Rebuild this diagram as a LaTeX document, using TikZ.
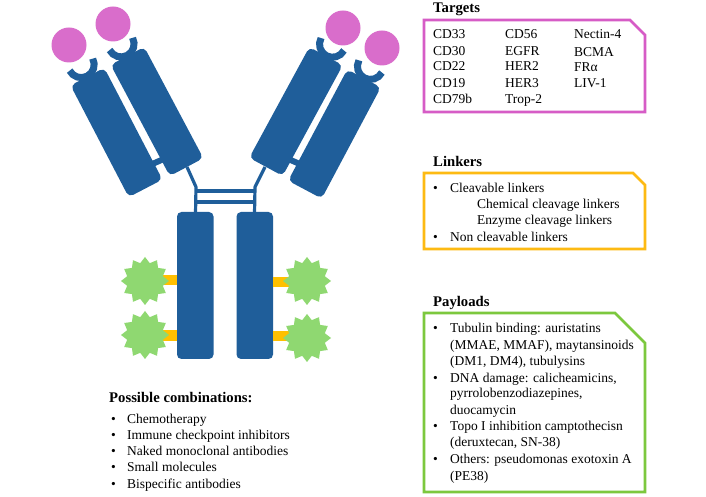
\documentclass[tikz,border=0pt]{standalone}
\usepackage{fontspec}
\setmainfont{Liberation Serif}
\usetikzlibrary{shapes.geometric,shapes.misc,calc}
\definecolor{abblue}{RGB}{31,94,154}
\definecolor{agpink}{RGB}{217,109,203}
\definecolor{pinkline}{RGB}{214,92,198}
\definecolor{payload}{RGB}{143,216,113}
\definecolor{greenline}{RGB}{124,200,62}
\definecolor{linkeryellow}{RGB}{255,192,0}
\definecolor{amberline}{RGB}{253,186,19}
\tikzset{
  chainline/.style={draw=abblue,line width=3.2pt},
  barline/.style={draw=abblue,line width=4pt},
  fcbox/.style={fill=abblue,rounded corners=4.5pt},
  antigen/.style={circle,fill=agpink,minimum size=35pt,inner sep=0pt},
  warhead/.style={star,star points=12,star point ratio=1.3,fill=payload,minimum size=48pt,inner sep=0pt,shape border rotate=90},
  tether/.style={fill=linkeryellow},
  panel/.style={line width=2.6pt,fill=none,miter limit=10},
  body/.style={anchor=base west,inner sep=0pt,font=\fontsize{13.5}{16}\selectfont},
  heading/.style={anchor=base west,inner sep=0pt,font=\fontsize{14.7}{16}\selectfont\bfseries},
}
% a Fab domain with its binding cup; local y axis runs towards the tip
\newcommand{\fabdomain}[3]{%
  \begin{scope}[shift={(#1,497-#2)},rotate=#3]
    \fill[abblue,rounded corners=5pt] (-19,-63) rectangle (19,63);
    \draw[abblue,line width=7pt] (-13,76.5) arc[start angle=180,end angle=360,radius=13];
  \end{scope}}
\begin{document}
\begin{tikzpicture}[x=1pt,y=1pt]
\useasboundingbox (0,0) rectangle (706,497);
\fill[white] (0,0) rectangle (706,497);

% hinge region
\draw[chainline,line join=round] (187,497-167) -- (196,497-187) -- (195.5,497-214);
\draw[chainline,line join=round] (265,497-167) -- (255,497-187) -- (254.5,497-214);
\draw[barline] (195,497-191) -- (255,497-191);
\draw[barline] (195,497-202) -- (255,497-202);

% links between the paired arm domains
\draw[abblue,line width=6pt] (150,497-165) -- (166,497-158);
\draw[abblue,line width=6pt] (286,497-158) -- (302,497-165);

% arms
\fabdomain{116.5}{132.5}{27.5}
\fabdomain{157}{111.5}{28}
\fabdomain{296}{111.5}{-28.5}
\fabdomain{334.5}{134}{-28}

% antigens
\node[antigen] (agA) at (69,497-45) {};
\node[antigen] (agB) at (113,497-24) {};
\node[antigen] (agC) at (343,497-28) {};
\node[antigen] (agD) at (382,497-48) {};

% Fc domains
\fill[fcbox] (177,497-212) rectangle (213.5,497-359);
\fill[fcbox] (236.5,497-212) rectangle (273,497-359);

% linkers
\fill[tether] (160,497-275) rectangle (177,497-285);
\fill[tether] (160,497-330) rectangle (177,497-341);
\fill[tether] (273,497-277) rectangle (290,497-287);
\fill[tether] (273,497-331) rectangle (290,497-341);

% payloads
\node[warhead] (pwA) at (145,497-281) {};
\node[warhead] (pwB) at (145,497-335) {};
\node[warhead] (pwC) at (307,497-281) {};
\node[warhead] (pwD) at (307,497-338) {};

% panel frames
\draw[panel,draw=pinkline] (424,497-20) -- (630,497-20) -- (645,497-35) -- (645,497-112) -- (424,497-112) -- cycle;
\draw[panel,draw=amberline] (424,497-173) -- (633,497-173) -- (645,497-185) -- (645,497-249) -- (424,497-249) -- cycle;
\draw[panel,draw=greenline] (424,497-313) -- (615,497-313) -- (645,497-343) -- (645,497-492) -- (424,497-492) -- cycle;

% targets
\node[heading] (tT) at (433,497-13) {Targets};
\node[body] (t1) at (433,497-39) {CD33};
\node[body] (t2) at (433,497-56) {CD30};
\node[body] (t3) at (433,497-71) {CD22};
\node[body] (t4) at (433,497-88) {CD19};
\node[body] (t5) at (433,497-104) {CD79b};
\node[body] (t6) at (505,497-39) {CD56};
\node[body] (t7) at (505,497-56) {EGFR};
\node[body] (t8) at (505,497-71) {HER2};
\node[body] (t9) at (505,497-88) {HER3};
\node[body] (t10) at (505,497-104) {Trop-2};
\node[body] (t11) at (574,497-39) {Nectin-4};
\node[body] (t12) at (574,497-57) {BCMA};
\node[body] (t13) at (574,497-72) {FRα};
\node[body] (t14) at (574,497-88) {LIV-1};

% linkers text
\node[heading] (lT) at (433,497-167) {Linkers};
\node[body] (lb1) at (433,497-193) {•};
\node[body] (l1) at (450,497-193) {Cleavable linkers};
\node[body] (l2) at (477,497-209) {Chemical cleavage linkers};
\node[body] (l3) at (477,497-225) {Enzyme cleavage linkers};
\node[body] (lb2) at (433,497-242) {•};
\node[body] (l4) at (450,497-242) {Non cleavable linkers};

% payloads text
\node[heading] (pT) at (433,497-307) {Payloads};
\node[body] (pb1) at (433,497-333) {•};
\node[body] (p1) at (450,497-333) {Tubulin binding: auristatins};
\node[body] (p2) at (450,497-350) {(MMAE, MMAF), maytansinoids};
\node[body] (p3) at (450,497-366) {(DM1, DM4), tubulysins};
\node[body] (pb2) at (433,497-383) {•};
\node[body] (p4) at (450,497-383) {DNA damage: calicheamicins,};
\node[body] (p5) at (450,497-398) {pyrrolobenzodiazepines,};
\node[body] (p6) at (450,497-415) {duocamycin};
\node[body] (pb3) at (433,497-431) {•};
\node[body] (p7) at (450,497-431) {Topo I inhibition camptothecisn};
\node[body] (p8) at (450,497-447) {(deruxtecan, SN-38)};
\node[body] (pb4) at (433,497-464) {•};
\node[body] (p9) at (450,497-464) {Others: pseudomonas exotoxin A};
\node[body] (p10) at (450,497-481) {(PE38)};

% combinations
\node[heading] (cT) at (109,497-403) {Possible combinations:};
\node[body] (cb1) at (111,497-424) {•};
\node[body] (c1) at (127,497-424) {Chemotherapy};
\node[body] (cb2) at (111,497-440) {•};
\node[body] (c2) at (127,497-440) {Immune checkpoint inhibitors};
\node[body] (cb3) at (111,497-456) {•};
\node[body] (c3) at (127,497-456) {Naked monoclonal antibodies};
\node[body] (cb4) at (111,497-472) {•};
\node[body] (c4) at (127,497-472) {Small molecules};
\node[body] (cb5) at (111,497-489) {•};
\node[body] (c5) at (127,497-489) {Bispecific antibodies};
\end{tikzpicture}
\end{document}
